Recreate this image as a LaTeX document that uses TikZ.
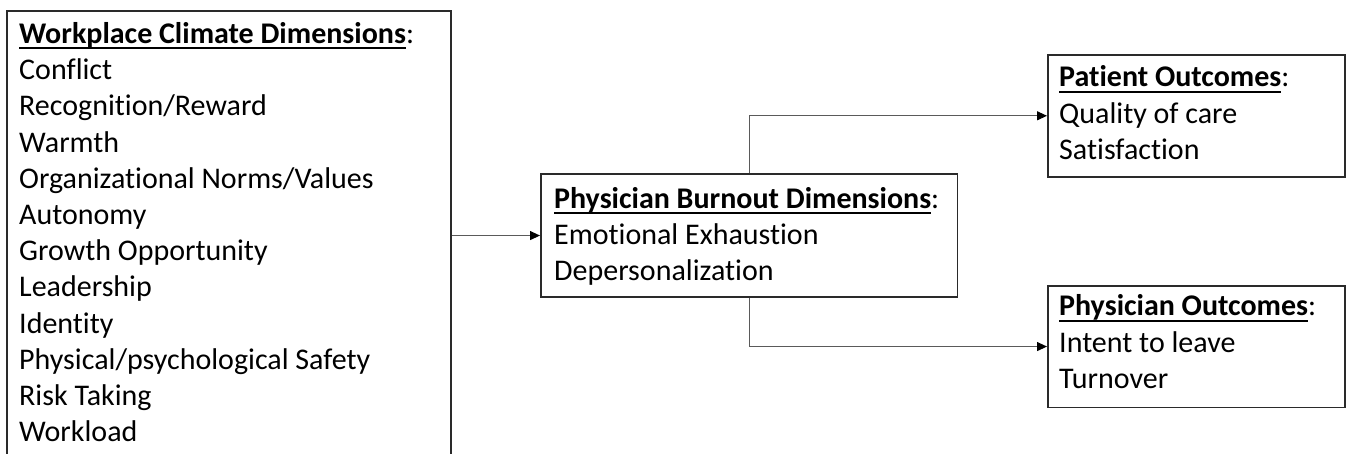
\documentclass[tikz,border=0pt]{standalone}
\usepackage{fontspec}
\setmainfont{Carlito}[Ligatures=NoCommon]
\usetikzlibrary{arrows.meta}
\definecolor{boxline}{HTML}{2A2A2A}
\definecolor{conline}{HTML}{5A5A5A}
\newcommand{\hdul}[1]{\setbox0\hbox{\textbf{#1}}\rlap{\rule[-5.6pt]{\wd0}{1.7pt}}\box0}
\tikzset{
  boxnode/.style={draw=boxline, line width=1.6pt, rectangle, inner sep=0pt, anchor=north west},
  txt/.style={inner sep=0pt, anchor=base west, font=\fontsize{30}{36.2}\selectfont, text=black},
  conn/.style={draw=conline, line width=1.1pt, -{Triangle[length=10pt,width=9pt,color=black]}},
}
\begin{document}
\begin{tikzpicture}[x=1pt,y=-1pt]
\useasboundingbox (0,0) rectangle (1346,454);
% boxes
\node[boxnode, minimum width=444pt, minimum height=470pt] (clim) at (6,10) {};
\node[boxnode, minimum width=416.5pt, minimum height=122.5pt] (burn) at (540,173.5) {};
\node[boxnode, minimum width=297pt, minimum height=122pt] (pat) at (1047,54) {};
\node[boxnode, minimum width=297pt, minimum height=121.5pt] (phy) at (1047,285) {};
% texts
\node[txt] (climtxt) at (19,43.5) {\begin{tabular}[t]{@{}l@{}}
\hdul{Workplace Climate Dimensions}:\\
Conflict\\
Recognition/Reward\\
Warmth\\
Organizational Norms/Values\\
Autonomy\\
Growth Opportunity\\
Leadership\\
Identity\\
Physical/psychological Safety\\
Risk Taking\\
Workload
\end{tabular}};
\node[txt] (burntxt) at (554,208.5) {\begin{tabular}[t]{@{}l@{}}
\hdul{Physician Burnout Dimensions}:\\
Emotional Exhaustion\\
Depersonalization
\end{tabular}};
\node[txt] (pattxt) at (1059,87) {\begin{tabular}[t]{@{}l@{}}
\hdul{Patient Outcomes}:\\
Quality of care\\
Satisfaction
\end{tabular}};
\node[txt] (phytxt) at (1059,316) {\begin{tabular}[t]{@{}l@{}}
\hdul{Physician Outcomes}:\\
Intent to leave\\
Turnover
\end{tabular}};
% connectors
\draw[conn] (clim.east |- burn.west) -- (burn.west);
\draw[conn] (burn.north) |- (pat.west);
\draw[conn] (burn.south) |- (phy.west);
\end{tikzpicture}
\end{document}
